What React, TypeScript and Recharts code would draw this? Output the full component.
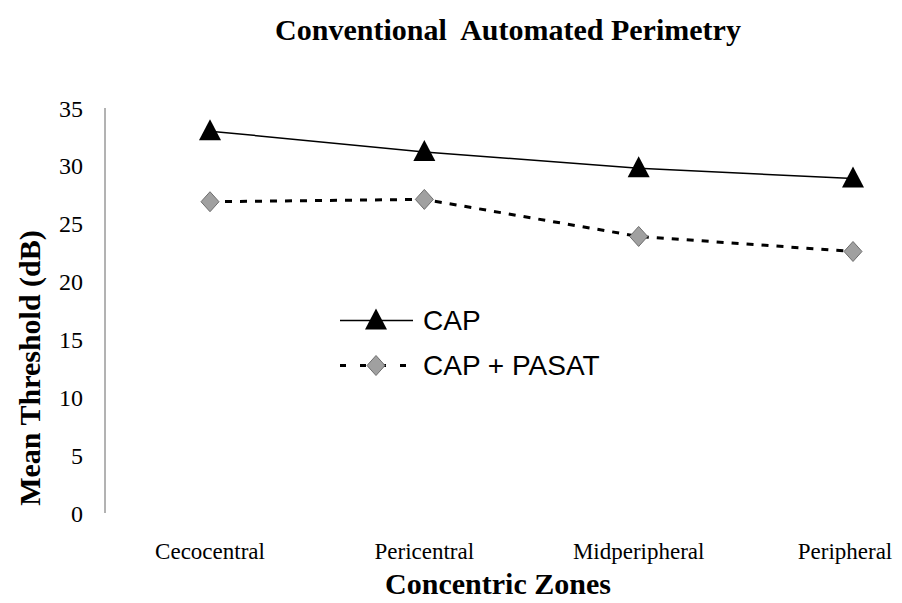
import { LineChart, Line, XAxis, YAxis } from 'recharts'

const zones = ['Cecocentral', 'Pericentral', 'Midperipheral', 'Peripheral']
const cap = [33.0, 31.2, 29.8, 28.9]
const capPasat = [26.9, 27.1, 23.9, 22.6]
const yTicks = [0, 5, 10, 15, 20, 25, 30, 35]

const data = zones.map((zone, i) => ({ zone, cap: cap[i], capPasat: capPasat[i] }))

const serif = '"Liberation Serif", "Times New Roman", serif'
const sans = '"Liberation Sans", Arial, sans-serif'

// filled black triangle like the old Excel marker
function TriangleDot(props: any) {
  const { cx, cy, index } = props
  if (cx == null || cy == null) return null
  return (
    <path
      key={'t' + index}
      d={`M${cx},${cy - 12} L${cx + 11},${cy + 9} L${cx - 11},${cy + 9} Z`}
      fill="#000"
    />
  )
}

function DiamondDot(props: any) {
  const { cx, cy, index } = props
  if (cx == null || cy == null) return null
  return (
    <path
      key={'d' + index}
      d={`M${cx},${cy - 10} L${cx + 9},${cy} L${cx},${cy + 10} L${cx - 9},${cy} Z`}
      fill="#a0a0a0"
      stroke="#6e6e6e"
      strokeWidth={1}
    />
  )
}

// last label would run off the right edge, nudge it in a bit
function ZoneTick(props: any) {
  const { x, y, payload, index } = props
  const shift = index === zones.length - 1 ? -8 : 0
  return (
    <text x={x + shift} y={y} dy="0.71em" textAnchor="middle" fill="#000" fontSize={23} fontFamily={serif}>
      {payload.value}
    </text>
  )
}

function ChartLegend() {
  const row = { display: 'flex', alignItems: 'center', height: 45 }
  const text = { fontFamily: sans, fontSize: 28, color: '#000', lineHeight: '45px' }
  return (
    <div style={{ position: 'absolute', left: 332, top: 290 }}>
      <div style={row}>
        <svg width={83} height={45}>
          <line x1={0} x2={73} y1={22.5} y2={22.5} stroke="#000" strokeWidth={1.5} />
          <path d="M36,10.5 L47,31.5 L25,31.5 Z" fill="#000" />
        </svg>
        <span style={text}>CAP</span>
      </div>
      <div style={row}>
        <svg width={83} height={45}>
          <line x1={0} x2={66} y1={22.5} y2={22.5} stroke="#000" strokeWidth={3} strokeDasharray="6 14" />
          <path d="M36,12.5 L45,22.5 L36,32.5 L27,22.5 Z" fill="#a0a0a0" stroke="#6e6e6e" strokeWidth={1} />
        </svg>
        <span style={text}>CAP + PASAT</span>
      </div>
    </div>
  )
}

const boldLabel = {
  position: 'absolute' as const,
  whiteSpace: 'pre' as const,
  fontFamily: serif,
  fontWeight: 'bold' as const,
  fontSize: 30,
  lineHeight: 1,
}

export default function App() {
  return (
    <div style={{ position: 'relative', width: 886, height: 587, background: '#fff' }}>
      <LineChart width={886} height={587} data={data} margin={{ top: 100, right: 16, bottom: 0, left: 0 }}>
        <XAxis
          dataKey="zone"
          axisLine={false}
          tickLine={false}
          interval={0}
          padding={{ left: 105, right: 25 }}
          tick={ZoneTick}
          tickMargin={24}
          height={82}
        />
        <YAxis
          domain={[0, 35]}
          ticks={yTicks}
          width={97}
          tickLine={false}
          axisLine={{ stroke: '#666' }}
          tick={{ fill: '#000', fontSize: 24, fontFamily: serif }}
          tickMargin={16}
        />
        <Line
          dataKey="cap"
          stroke="#000"
          strokeWidth={1.5}
          dot={TriangleDot}
          activeDot={false}
          isAnimationActive={false}
        />
        <Line
          dataKey="capPasat"
          stroke="#000"
          strokeWidth={3}
          strokeDasharray="7 8"
          dot={DiamondDot}
          activeDot={false}
          isAnimationActive={false}
        />
      </LineChart>
      <ChartLegend />
      <div style={{ ...boldLabel, left: 500, top: 22, transform: 'translate(-50%, -50%)' }}>
        {'Conventional  Automated Perimetry'}
      </div>
      <div style={{ ...boldLabel, left: 22, top: 360, transform: 'translate(-50%, -50%) rotate(-90deg)' }}>
        Mean Threshold (dB)
      </div>
      <div style={{ ...boldLabel, left: 490, top: 576, transform: 'translate(-50%, -50%)' }}>
        Concentric Zones
      </div>
    </div>
  )
}
